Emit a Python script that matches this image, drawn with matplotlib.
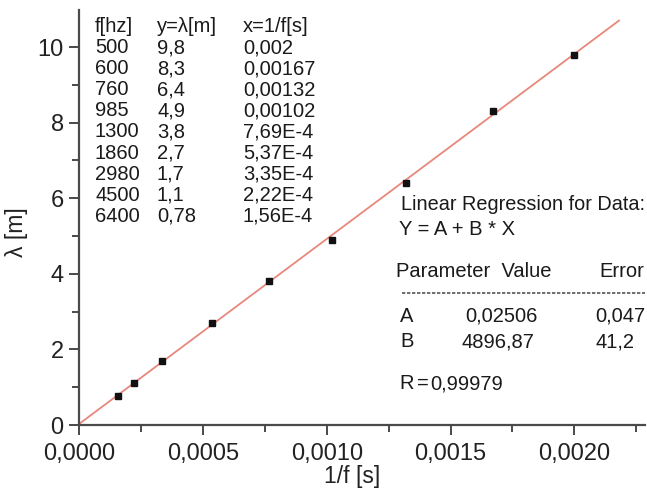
import matplotlib
matplotlib.use("Agg")
import matplotlib.pyplot as plt
import numpy as np
from matplotlib.ticker import FixedLocator, FuncFormatter

plt.rcParams['font.family'] = ['Liberation Sans', 'DejaVu Sans']

# ---- data ----
freq_labels = ["500", "600", "760", "985", "1300", "1860", "2980", "4500", "6400"]
lam_labels = ["9,8", "8,3", "6,4", "4,9", "3,8", "2,7", "1,7", "1,1", "0,78"]
inv_f_labels = ["0,002", "0,00167", "0,00132", "0,00102", "7,69E-4",
                "5,37E-4", "3,35E-4", "2,22E-4", "1,56E-4"]
inv_f = [0.002, 0.00167, 0.00132, 0.00102, 7.69e-4, 5.37e-4, 3.35e-4, 2.22e-4, 1.56e-4]
lam = [9.8, 8.3, 6.4, 4.9, 3.8, 2.7, 1.7, 1.1, 0.78]
fit_A = 0.02506
fit_B = 4896.87
fit_errors = ["0,047", "41,2"]
fit_R = "0,99979"
fit_range = [0.0, 0.00218]
x_ticks = [0.0, 0.0005, 0.0010, 0.0015, 0.0020]
y_ticks = [0, 2, 4, 6, 8, 10]

W, H = 647, 488
fig = plt.figure(figsize=(W / 100, H / 100), dpi=100)

def fx(px):
    return px / W

def fy(py):
    return 1 - py / H

ax = fig.add_axes([fx(79), fy(425), fx(645) - fx(79), fy(10) - fy(425)])
ax.set_xlim(0, 0.002285)
ax.set_ylim(0, 10.98)

xf = np.array(fit_range)
ax.plot(xf, fit_A + fit_B * xf, color='#e8877c', lw=1.3, zorder=2)
ax.plot(inv_f, lam, 's', color='#111111', ms=5, zorder=3)

for s in ['top', 'right']:
    ax.spines[s].set_visible(False)
for s in ['left', 'bottom']:
    ax.spines[s].set_color('#4a4a4a')
    ax.spines[s].set_linewidth(1.6)

ax.xaxis.set_major_locator(FixedLocator(x_ticks))
ax.xaxis.set_minor_locator(FixedLocator([0.00025, 0.00075, 0.00125, 0.00175, 0.00225]))
ax.yaxis.set_major_locator(FixedLocator(y_ticks))
ax.yaxis.set_minor_locator(FixedLocator([1, 3, 5, 7, 9]))
ax.xaxis.set_major_formatter(FuncFormatter(lambda v, p: f"{v:.4f}".replace('.', ',')))
ax.yaxis.set_major_formatter(FuncFormatter(lambda v, p: f"{v:.0f}"))
ax.tick_params(which='major', direction='out', length=7, width=1.4, color='#4a4a4a',
               labelsize=17, labelcolor='#222222', pad=4)
ax.tick_params(axis='x', which='major', pad=6)
ax.tick_params(which='minor', direction='out', length=5, width=1.4, color='#4a4a4a')

ax.set_xlabel("1/f [s]", fontsize=16.5, color='#222222')
ax.set_ylabel("λ [m]", fontsize=16.5, color='#222222')
ax.xaxis.set_label_coords((352 - 79) / 566, -(476 - 425) / 415)
ax.yaxis.set_label_coords((17 - 79) / 566, (425 - 232) / 415)
ax.xaxis.label.set_va('center')
ax.yaxis.label.set_va('center')

# data table
tc = '#1a1a1a'
fs = 14.5
headers = ["f[hz]", "y=λ[m]", "x=1/f[s]"]
col_x = [95, 157, 243]
for cx, h in zip(col_x, headers):
    fig.text(fx(cx), fy(32), h, fontsize=fs, color=tc, va='baseline', ha='left')
for i, (a, b, c) in enumerate(zip(freq_labels, lam_labels, inv_f_labels)):
    yb = 53 + 21.1 * i
    fig.text(fx(col_x[0]), fy(yb), a, fontsize=fs, color=tc, va='baseline')
    fig.text(fx(col_x[1]), fy(yb), b, fontsize=fs, color=tc, va='baseline')
    fig.text(fx(col_x[2]), fy(yb), c, fontsize=fs, color=tc, va='baseline')

# regression box
fig.text(fx(401), fy(210), "Linear Regression for Data:", fontsize=14.3, color=tc, va='baseline')
fig.text(fx(399), fy(235), "Y = A + B * X", fontsize=fs, color=tc, va='baseline')
fig.text(fx(396), fy(277), "Parameter  Value", fontsize=fs, color=tc, va='baseline')
fig.text(fx(644), fy(277), "Error", fontsize=fs, color=tc, va='baseline', ha='right')
fig.add_artist(plt.Line2D([fx(402), fx(645)], [fy(293), fy(293)], color='#555555',
                          lw=1.2, ls=(0, (2, 1))))
fig.text(fx(400), fy(322), "A", fontsize=fs, color=tc, va='baseline')
fig.text(fx(538), fy(322), f"{fit_A:.5f}".replace('.', ','), fontsize=fs, color=tc,
         va='baseline', ha='right')
fig.text(fx(595), fy(322), fit_errors[0], fontsize=fs, color=tc, va='baseline')
fig.text(fx(400), fy(347), "B", fontsize=fs, color=tc, va='baseline')
fig.text(fx(534), fy(347), f"{fit_B:.2f}".replace('.', ','), fontsize=fs, color=tc,
         va='baseline', ha='right')
fig.text(fx(596), fy(347), fit_errors[1], fontsize=fs, color=tc, va='baseline')
fig.text(fx(399), fy(389), "R", fontsize=fs, color=tc, va='baseline')
fig.text(fx(417), fy(389), "=", fontsize=fs, color=tc, va='baseline')
fig.text(fx(430), fy(389), fit_R, fontsize=fs, color=tc, va='baseline')

fig.savefig("out.png", dpi=100)
